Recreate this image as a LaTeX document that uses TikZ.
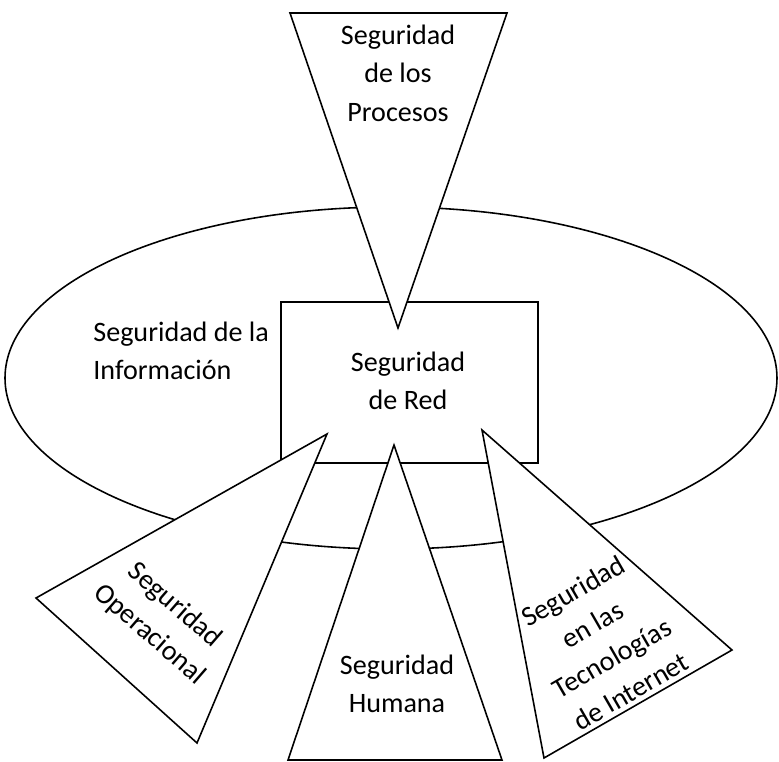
\documentclass[tikz,border=0pt]{standalone}
\usepackage{fontspec}
\setmainfont{Carlito}

\begin{document}
\begin{tikzpicture}[
  x=0.02cm, y=-0.02cm,
  pieza/.style={draw, fill=white, line width=0.9pt, line join=miter},
  lbl/.style={inner sep=0pt, align=center, font=\fontsize{16}{22}\selectfont},
]
\useasboundingbox (0,0) rectangle (779,762);

% elipse exterior
\coordinate (centro) at (391,378);
\draw[pieza] (centro) ellipse [x radius=386, y radius=171];

% rectangulo central
\coordinate (R1) at (281,302);
\coordinate (R2) at (538,463);
\draw[pieza] (R1) rectangle (R2);

% triangulo superior
\coordinate (P1) at (290,13);
\coordinate (P2) at (507,13);
\coordinate (P3) at (398,328);
\draw[pieza] (P1) -- (P2) -- (P3) -- cycle;

% triangulo izquierdo
\coordinate (O1) at (327,434);
\coordinate (O2) at (36,598);
\coordinate (O3) at (197,743);
\draw[pieza] (O1) -- (O2) -- (O3) -- cycle;

% triangulo inferior
\coordinate (H1) at (394,445);
\coordinate (H2) at (288,760);
\coordinate (H3) at (502,760);
\draw[pieza] (H1) -- (H2) -- (H3) -- cycle;

% triangulo derecho
\coordinate (T1) at (482,430);
\coordinate (T2) at (732,650);
\coordinate (T3) at (544,758);
\draw[pieza] (T1) -- (T2) -- (T3) -- cycle;

% textos
\node[lbl] (procesos) at (398,73) {Seguridad\\de los\\Procesos};
\node[lbl] (red) at (408,381) {Seguridad\\de Red};
\node[lbl, align=left, anchor=west] (info) at (93,351) {Seguridad de la\\Información};
\node[lbl] (humana) at (397,684) {Seguridad\\Humana};
\node[lbl, rotate=-41] (operacional) at (162,620) {Seguridad\\Operacional};
\node[lbl, rotate=30] (internet) at (602,641) {Seguridad\\en las\\Tecnologías\\de Internet};

\end{tikzpicture}
\end{document}
